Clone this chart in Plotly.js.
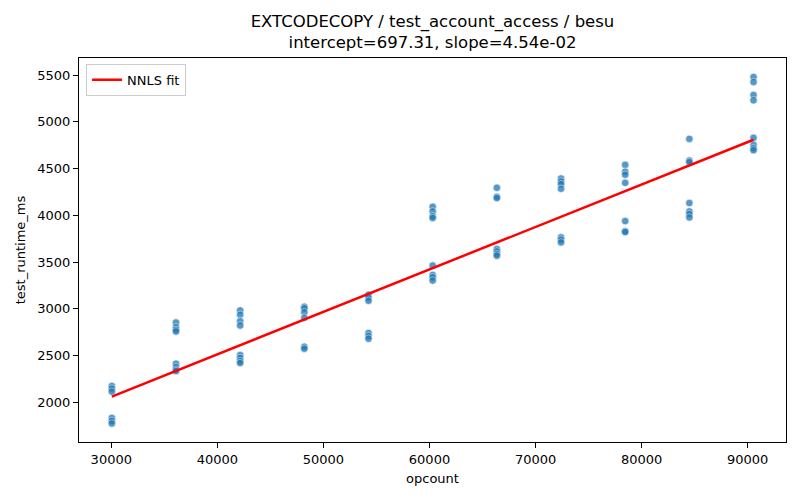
<!DOCTYPE html>
<html>
<head>
<meta charset="utf-8">
<script src="https://cdn.plot.ly/plotly-3.0.1.min.js"></script>
<style>
  html, body { margin: 0; padding: 0; background: #ffffff; }
  #chart { width: 800px; height: 500px; }
</style>
</head>
<body>
<div id="chart"></div>
<script>
// opcount columns, and the runtimes measured at each one
var opcounts = [30050, 36100, 42150, 48200, 54250, 60300, 66350, 72400, 78450, 84500, 90550];
var runtimes = [
    [2174, 2146, 2114, 1833, 1801, 1773],
    [2853, 2803, 2776, 2758, 2413, 2377, 2349, 2334],
    [2982, 2936, 2867, 2821, 2505, 2473, 2441, 2419],
    [3021, 3005, 2964, 2904, 2594, 2573],
    [3149, 3117, 3085, 2740, 2708, 2680],
    [4091, 4041, 3990, 3971, 3462, 3362, 3337, 3302],
    [4294, 4198, 4184, 3640, 3614, 3586, 3568],
    [4393, 4361, 4333, 4283, 3764, 3739, 3710],
    [4539, 4465, 4433, 4347, 3938, 3828, 3821],
    [4817, 4585, 4568, 4131, 4041, 4013, 3977],
    [5478, 5425, 5286, 5230, 4828, 4753, 4718, 4696]
];

// NNLS fit end points (intercept=697.31, slope=4.54e-02)
var fitX = [30050, 90550];
var fitY = [2061, 4808];

var xTicks = [30000, 40000, 50000, 60000, 70000, 80000, 90000];
var yTicks = [2000, 2500, 3000, 3500, 4000, 4500, 5000, 5500];

var ptsX = [], ptsY = [];
for (var i = 0; i < opcounts.length; i++) {
    for (var j = 0; j < runtimes[i].length; j++) {
        ptsX.push(opcounts[i]);
        ptsY.push(runtimes[i][j]);
    }
}

var traceRuns = {
    x: ptsX,
    y: ptsY,
    type: 'scatter',
    mode: 'markers',
    showlegend: false,
    marker: { size: 7.5, color: '#1f77b4', opacity: 0.75, line: { color: '#ffffff', width: 0.6 } },
    hoverinfo: 'x+y'
};

var traceFit = {
    x: fitX,
    y: fitY,
    type: 'scatter',
    mode: 'lines',
    name: 'NNLS fit',
    line: { color: '#ff0000', width: 2.5 }
};

var axisBase = {
    showgrid: false,
    zeroline: false,
    showline: true,
    linecolor: '#000000',
    linewidth: 1,
    mirror: true,
    ticks: 'outside',
    ticklen: 5,
    tickcolor: '#000000',
    tickfont: { family: 'DejaVu Sans', size: 13, color: '#000000' }
};

var layout = {
    width: 800,
    height: 500,
    paper_bgcolor: '#ffffff',
    plot_bgcolor: '#ffffff',
    font: { family: 'DejaVu Sans', color: '#000000' },
    title: {
        text: 'EXTCODECOPY / test_account_access / besu<br>intercept=697.31, slope=4.54e-02',
        font: { family: 'DejaVu Sans', size: 16.5, color: '#000000' },
        xref: 'paper', x: 0.5, xanchor: 'center',
        y: 0.947, yanchor: 'top'
    },
    xaxis: Object.assign({}, axisBase, {
        title: { text: 'opcount', font: { family: 'DejaVu Sans', size: 13, color: '#000000' }, standoff: 8 },
        range: [26956, 93610],
        tickvals: xTicks,
        ticktext: xTicks.map(function(v) { return String(v); })
    }),
    yaxis: Object.assign({}, axisBase, {
        title: { text: 'test_runtime_ms', font: { family: 'DejaVu Sans', size: 13, color: '#000000' }, standoff: 8 },
        range: [1575, 5682],
        tickvals: yTicks,
        ticktext: yTicks.map(function(v) { return String(v); })
    }),
    showlegend: true,
    legend: {
        x: 0.01, y: 0.985, xanchor: 'left', yanchor: 'top',
        bgcolor: 'rgba(255,255,255,0.8)',
        bordercolor: '#cccccc',
        borderwidth: 1,
        font: { family: 'DejaVu Sans', size: 13, color: '#000000' }
    },
    margin: { t: 58, r: 14, b: 58, l: 79 }
};

Plotly.newPlot('chart', [traceRuns, traceFit], layout, { displayModeBar: false, staticPlot: true });
</script>
</body>
</html>
